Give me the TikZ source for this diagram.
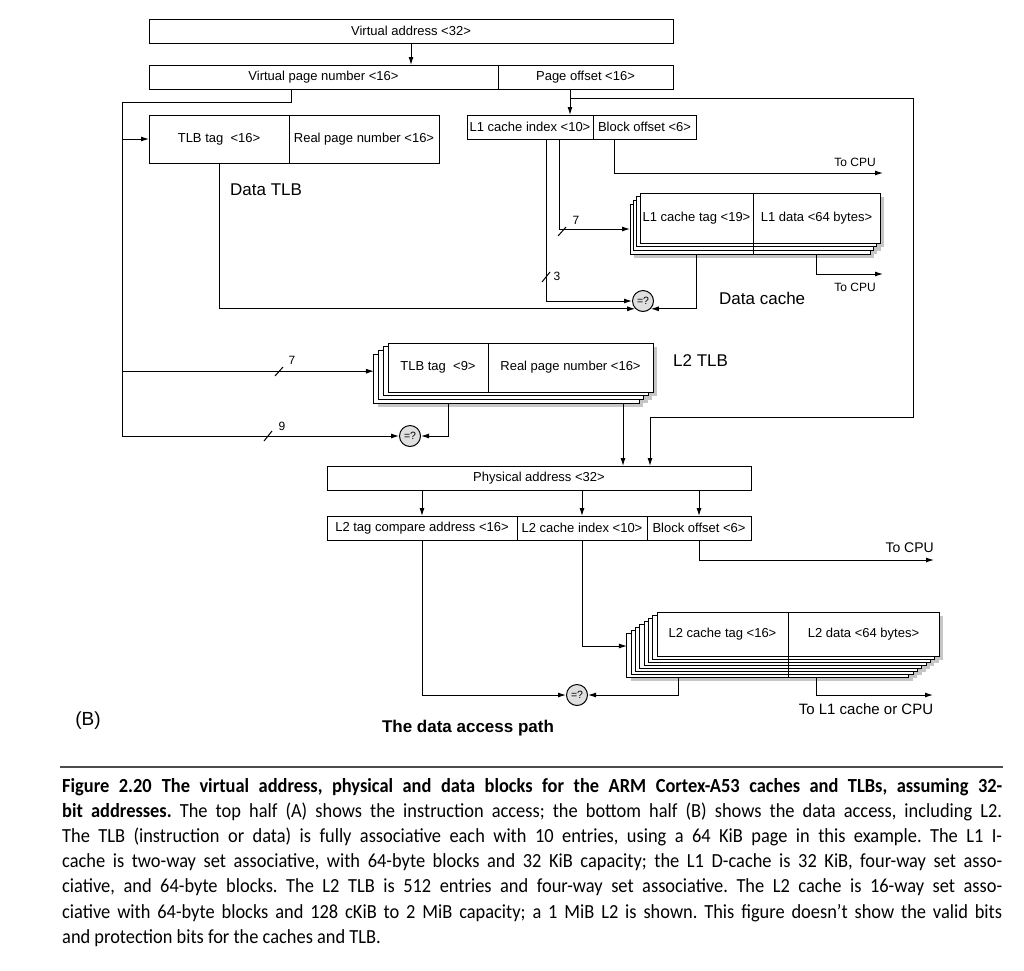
\documentclass[tikz,border=0pt]{standalone}
\usepackage{fontspec}
\setmainfont{Liberation Sans}
\newfontfamily\capfont[FakeStretch=0.92]{Carlito}
\usetikzlibrary{arrows.meta,positioning,calc}

\tikzset{
  field/.style={draw, line width=1pt, fill=white, inner sep=0pt, outer sep=0pt,
    minimum height=24pt, font=\fontsize{13}{15}\selectfont},
  slab/.style={draw, line width=1pt, fill=white, inner sep=0pt, outer sep=0pt},
  cmp/.style={draw, circle, line width=1pt, fill=gray!25, minimum size=21pt,
    inner sep=0pt, font=\fontsize{10.5}{10.5}\selectfont},
  wire/.style={line width=1pt, -{Latex[length=8pt,width=5pt]}},
  bus/.style={line width=1pt},
  shadowfill/.style={fill=gray!45},
  bigtext/.style={font=\fontsize{17}{17}\selectfont, inner sep=0pt},
  note/.style={font=\fontsize{12}{12}\selectfont, inner sep=0pt},
  capline/.style={anchor=base west, inner sep=0pt, font=\capfont\fontsize{20}{22}\selectfont\frenchspacing},
}
\newcommand{\capbox}[1]{\hbox to 940pt{#1}}

\begin{document}
\begin{tikzpicture}[x=1pt, y=-1pt]
  \useasboundingbox (0,0) rectangle (1024,970);

  % address fields
  \node[field, minimum width=524pt] (va) at (411,31) {Virtual address <32>};
  \node[field, minimum width=349pt] (vpn) at (323.5,77) {Virtual page number <16>};
  \node[field, minimum width=175pt, right=0pt of vpn] (poff) {Page offset <16>};
  \draw[wire] (va.south) -- (va.south |- vpn.north);

  % data TLB
  \node[field, minimum width=140pt, minimum height=48pt] (dtag) at (219,139) {TLB tag\ \ <16>};
  \node[field, minimum width=150pt, minimum height=48pt, right=0pt of dtag] (drpn) {Real page number <16>};
  \node[bigtext, anchor=west] (dtlbname) at (230,190) {Data TLB};

  % L1 index and offset
  \node[field, minimum width=126pt] (l1idx) at (530,127) {L1 cache index <10>};
  \node[field, minimum width=103pt, right=0pt of l1idx] (l1off) {Block offset <6>};

  % data cache, four ways
  \foreach \i in {3,...,0}
    \fill[shadowfill] (644-3.33*\i,197+3.67*\i) rectangle (884-3.33*\i,247+3.67*\i);
  \foreach \i in {3,2,1}
    \node[slab, minimum width=240pt, minimum height=50pt] (dc\i) at (760-3.33*\i,218+3.67*\i) {};
  \node[field, minimum width=113pt, minimum height=50pt] (dctag) at (696.5,218) {L1 cache tag <19>};
  \node[field, minimum width=127pt, minimum height=50pt, right=0pt of dctag] (dcdata) {L1 data <64 bytes>};
  \draw[bus] (dctag.south east) -- (dctag.south east |- dc3.south);
  \node[bigtext, anchor=west] (dcname) at (719,298) {Data cache};
  \node[cmp] (dcmp) at (643,301) {=?};

  % L2 TLB, four ways
  \foreach \i in {3,...,0}
    \fill[shadowfill] (392-4.67*\i,347+3.67*\i) rectangle (657-4.67*\i,396+3.67*\i);
  \foreach \i in {3,2,1}
    \node[slab, minimum width=265pt, minimum height=49pt] (tl\i) at (520.5-4.67*\i,367.5+3.67*\i) {};
  \node[field, minimum width=100pt, minimum height=49pt] (l2ttag) at (438,367.5) {TLB tag\ \ <9>};
  \node[field, minimum width=165pt, minimum height=49pt, right=0pt of l2ttag] (l2trpn) {Real page number <16>};
  \node[bigtext, anchor=west] (l2tname) at (673,361) {L2 TLB};
  \node[cmp] (tcmp) at (410,436) {=?};

  % physical address
  \node[field, minimum width=424pt] (pa) at (539,478) {Physical address <32>};
  \node[field, minimum width=190pt] (l2tag) at (422,528) {L2 tag compare address <16>};
  \node[field, minimum width=130pt, right=0pt of l2tag] (l2idx) {L2 cache index <10>};
  \node[field, minimum width=104pt, right=0pt of l2idx] (l2off) {Block offset <6>};

  % L2 cache, stacked ways
  \foreach \i in {7,...,0}
    \fill[shadowfill] (661-4.29*\i,616+3*\i) rectangle (943-4.29*\i,660+3*\i);
  \foreach \i in {7,...,1}
    \node[slab, minimum width=282pt, minimum height=44pt] (lc\i) at (798-4.29*\i,634+3*\i) {};
  \node[field, minimum width=131pt, minimum height=44pt] (lctag) at (722.5,634) {L2 cache tag <16>};
  \node[field, minimum width=151pt, minimum height=44pt, right=0pt of lctag] (lcdata) {L2 data <64 bytes>};
  \draw[bus] (lctag.south east) -- (lctag.south east |- lc7.south);
  \node[cmp] (lcmp) at (577,695) {=?};

  % virtual page number bus
  \coordinate (vtap) at ($(vpn.south west)+(142,0)$);
  \coordinate (lbus) at (122,102);
  \draw[wire] (vtap) |- (lbus) |- (tcmp.west);
  \draw[wire] (lbus |- dtag.west) -- (dtag.west);
  \draw[wire] (lbus |- tl1.west) -- (tl1.west -| tl3.west);
  \draw[bus] (275,376) -- (283,367);
  \node[note] (t7) at (292,360) {7};
  \draw[bus] (264,441) -- (272,431);
  \node[note] (t9) at (282,426) {9};

  % page offset bus
  \coordinate (ptap) at ($(poff.south west)+(72,0)$);
  \coordinate (pj) at ($(ptap)+(0,9)$);
  \coordinate (rbus) at (913,417);
  \coordinate (pin) at ($(pa.north west)+(323,0)$);
  \draw[wire] (ptap) -- (ptap |- l1idx.north);
  \draw[wire] (pj) -| (rbus) -| (pin);

  % L1 lookup
  \coordinate (itap3) at ($(l1idx.south west)+(79,0)$);
  \coordinate (itap7) at ($(l1idx.south west)+(92,0)$);
  \draw[wire] (itap3) |- (dcmp.west);
  \draw[wire] (itap7) |- (dc3.west);
  \draw[bus] (558,236) -- (566,227);
  \node[note] (w7) at (576,220) {7};
  \draw[bus] (542,282) -- (550,272);
  \node[note] (w3) at (557,276) {3};
  \coordinate (otap) at ($(l1off.south west)+(21,0)$);
  \coordinate (cpu1) at (883,173);
  \draw[wire] (otap) |- (cpu1);
  \node[note, anchor=base east] at (876,166) {To CPU};
  \draw[wire] (dtag.south) |- (dcmp.225);
  \draw[wire] (dctag |- dc3.south) |- (dcmp.-45);
  \coordinate (cpu2) at (883,274);
  \draw[wire] (dcdata |- dc3.south) |- (cpu2);
  \node[note, anchor=base east] at (876,291) {To CPU};

  % L2 TLB to physical address
  \coordinate (ttap) at ($(tl3.south west)+(75,0)$);
  \coordinate (rtap) at ($(tl3.south west)+(249,0)$);
  \draw[wire] (ttap) |- (tcmp.east);
  \draw[wire] (rtap) -- (rtap |- pa.north);
  \draw[wire] (pa.south -| l2tag) -- (l2tag.north);
  \draw[wire] (pa.south -| l2idx) -- (l2idx.north);
  \draw[wire] (pa.south -| l2off) -- (l2off.north);

  % L2 lookup
  \draw[wire] (l2tag.south) |- (lcmp.west);
  \draw[wire] (l2idx.south) |- (lc4.west -| lc7.west);
  \coordinate (cpu3) at (934,560);
  \draw[wire] (l2off.south) |- (cpu3);
  \node[font=\fontsize{14}{14}\selectfont, inner sep=0pt, anchor=base east] at (934,552) {To CPU};
  \coordinate (ctap) at ($(lc7.south west)+(52,0)$);
  \coordinate (dtap) at ($(lc7.south west)+(190,0)$);
  \coordinate (cpu4) at (933,695);
  \draw[wire] (ctap) |- (lcmp.east);
  \draw[wire] (dtap) |- (cpu4);
  \node[font=\fontsize{15}{15}\selectfont, inner sep=0pt, anchor=base] at (866,714) {To L1 cache or CPU};

  \node[font=\fontsize{19}{19}\selectfont] (panel) at (88,721) {(B)};
  \node[font=\fontsize{17}{17}\selectfont\bfseries] (title) at (468,728) {The data access path};

  % caption
  \draw[line width=1.5pt, gray!60!black] (60,767) -- (1003,767);
  \node[capline] (c1) at (62,792) {\capbox{\bfseries Figure 2.20\enspace The virtual address, physical and data blocks for the ARM Cortex-A53 caches and TLBs, assuming 32-}};
  \node[capline] (c2) at (62,817.2) {\capbox{{\bfseries bit addresses.} The top half (A) shows the instruction access; the bottom half (B) shows the data access, including L2.}};
  \node[capline] (c3) at (62,842.4) {\capbox{The TLB (instruction or data) is fully associative each with 10 entries, using a 64 KiB page in this example. The L1 I-}};
  \node[capline] (c4) at (62,867.6) {\capbox{cache is two-way set associative, with 64-byte blocks and 32 KiB capacity; the L1 D-cache is 32 KiB, four-way set asso-}};
  \node[capline] (c5) at (62,892.8) {\capbox{ciative, and 64-byte blocks. The L2 TLB is 512 entries and four-way set associative. The L2 cache is 16-way set asso-}};
  \node[capline] (c6) at (62,918) {\capbox{ciative with 64-byte blocks and 128 cKiB to 2 MiB capacity; a 1 MiB L2 is shown. This figure doesn’t show the valid bits}};
  \node[capline] (c7) at (62,943.2) {and protection bits for the caches and TLB.};
\end{tikzpicture}
\end{document}
